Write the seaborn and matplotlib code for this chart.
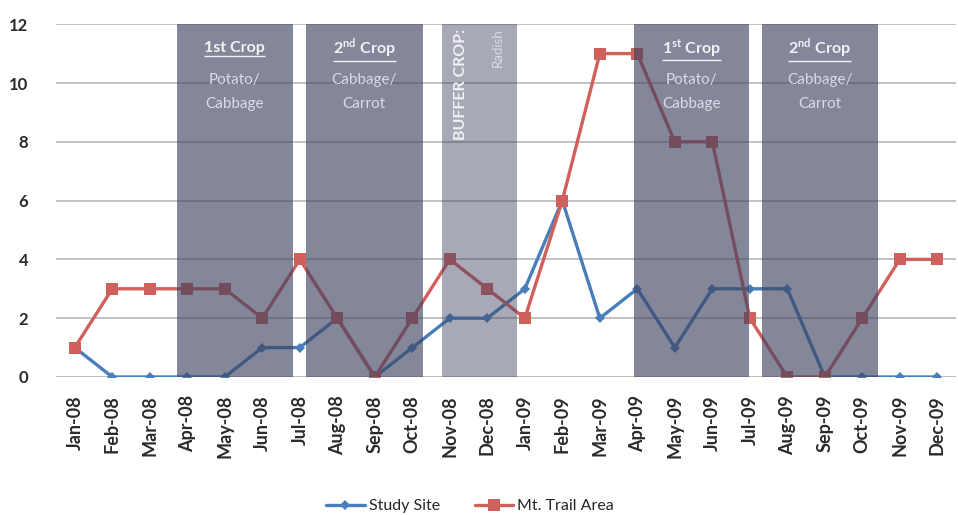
import numpy as np
import pandas as pd
import seaborn as sns
import matplotlib
matplotlib.use("Agg")
import matplotlib.pyplot as plt

months = ["Jan-08", "Feb-08", "Mar-08", "Apr-08", "May-08", "Jun-08", "Jul-08", "Aug-08",
          "Sep-08", "Oct-08", "Nov-08", "Dec-08", "Jan-09", "Feb-09", "Mar-09", "Apr-09",
          "May-09", "Jun-09", "Jul-09", "Aug-09", "Sep-09", "Oct-09", "Nov-09", "Dec-09"]
study_site = [1, 0, 0, 0, 0, 1, 1, 2, 0, 1, 2, 2, 3, 6, 2, 3, 1, 3, 3, 3, 0, 0, 0, 0]
mt_trail = [1, 3, 3, 3, 3, 2, 4, 2, 0, 2, 4, 3, 2, 6, 11, 11, 8, 8, 2, 0, 0, 2, 4, 4]
series_names = ["Study Site", "Mt. Trail Area"]

# crop periods (in month-index units)
band_starts = [2.72, 6.16, 14.91, 18.32]
band_ends = [5.81, 9.28, 17.97, 21.41]
band_titles = ["1st Crop", r"2$^{\mathbf{nd}}$ Crop", r"1$^{\mathbf{st}}$ Crop", r"2$^{\mathbf{nd}}$ Crop"]
band_sub1 = ["Potato/", "Cabbage/", "Potato/", "Cabbage/"]
band_sub2 = ["Cabbage", "Carrot", "Cabbage", "Carrot"]
buffer_start, buffer_end = 9.79, 11.79
buffer_text1 = "BUFFER CROP:"
buffer_text2 = "Radish"

sns.set_theme(style="white")
plt.rcParams['font.family'] = ['Lato', 'DejaVu Sans']
plt.rcParams['mathtext.fontset'] = 'custom'
plt.rcParams['mathtext.rm'] = 'Lato'
plt.rcParams['mathtext.bf'] = 'Lato:bold'

df = pd.DataFrame({
    "idx": list(range(len(months))) * 2,
    "value": study_site + mt_trail,
    "series": [series_names[0]] * len(months) + [series_names[1]] * len(months),
})

fig = plt.figure(figsize=(9.58, 5.15), dpi=100)
ax = fig.add_axes([0.0585, 0.268, 0.9395, 0.685])

palette = {series_names[0]: "#4a7ebb", series_names[1]: "#d0605c"}
markers = {series_names[0]: "D", series_names[1]: "s"}
sns.lineplot(data=df, x="idx", y="value", hue="series", style="series",
             palette=palette, markers=markers, dashes=False, linewidth=2.4,
             markersize=7, markeredgewidth=0, ax=ax, zorder=3, legend=True)
for line in ax.lines:
    if line.get_marker() == "D":
        line.set_markersize(5.5)
    elif line.get_marker() == "s":
        line.set_markersize(8)

ax.set_xlim(-0.5, 23.5)
ax.set_ylim(0, 12)
ax.set_yticks(np.arange(0, 13, 2))
ax.set_xticks(range(len(months)))
ax.set_xticklabels(months, rotation=90, fontsize=13, color="#2a2a2a", fontweight="bold")
for lab in ax.get_yticklabels():
    lab.set_fontweight("bold")
ax.tick_params(axis='y', labelsize=12, colors="#2a2a2a", pad=14)
ax.tick_params(axis='x', pad=7)
ax.set_xlabel("")
ax.set_ylabel("")
ax.yaxis.grid(True, color="#b8b8b8", linewidth=1.2)
ax.set_axisbelow(True)
for s in ax.spines.values():
    s.set_visible(False)
ax.axhline(0, color="#bfbfbf", linewidth=1.2, zorder=1)

for x0, x1 in zip(band_starts, band_ends):
    ax.axvspan(x0, x1, ymin=0, ymax=1, color="#3d4260", alpha=0.63, lw=0, zorder=4)
ax.axvspan(buffer_start, buffer_end, color="#3d4260", alpha=0.45, lw=0, zorder=4)

tcol = "#f2f2f5"
title_texts = []
for x0, x1, t, s1, s2 in zip(band_starts, band_ends, band_titles, band_sub1, band_sub2):
    xc = (x0 + x1) / 2
    tt = ax.text(xc, 11.2, t, ha="center", va="center", fontsize=11.5, fontweight="bold",
                 color=tcol, zorder=6)
    title_texts.append(tt)
    ax.text(xc, 10.1, s1, ha="center", va="center", fontsize=11, color="#dcdce4", zorder=6)
    ax.text(xc, 9.3, s2, ha="center", va="center", fontsize=11, color="#dcdce4", zorder=6)

ax.text(buffer_start + 0.5, 11.85, buffer_text1, rotation=90, ha="center", va="top",
        fontsize=11.5, fontweight="bold", color=tcol, zorder=6)
ax.text(buffer_start + 1.5, 11.85, buffer_text2, rotation=90, ha="center", va="top",
        fontsize=9.5, color="#dcdce4", zorder=6)

# underline band titles
fig.canvas.draw()
renderer = fig.canvas.get_renderer()
inv = ax.transData.inverted()
for tt in title_texts:
    bb = tt.get_window_extent(renderer)
    (xa, ya) = inv.transform((bb.x0, bb.y0 - 1))
    (xb, _) = inv.transform((bb.x1, bb.y0 - 1))
    ax.plot([xa, xb], [ya, ya], color=tcol, lw=1.0, zorder=6, solid_capstyle="butt")

handles, labels = ax.get_legend_handles_labels()
leg = ax.legend(handles, labels, loc="upper center", bbox_to_anchor=(0.46, -0.305),
                ncol=2, frameon=False, fontsize=11.5, handlelength=2.4, columnspacing=2.2,
                handletextpad=0.25)

fig.savefig("out.png", dpi=100, facecolor="white")
